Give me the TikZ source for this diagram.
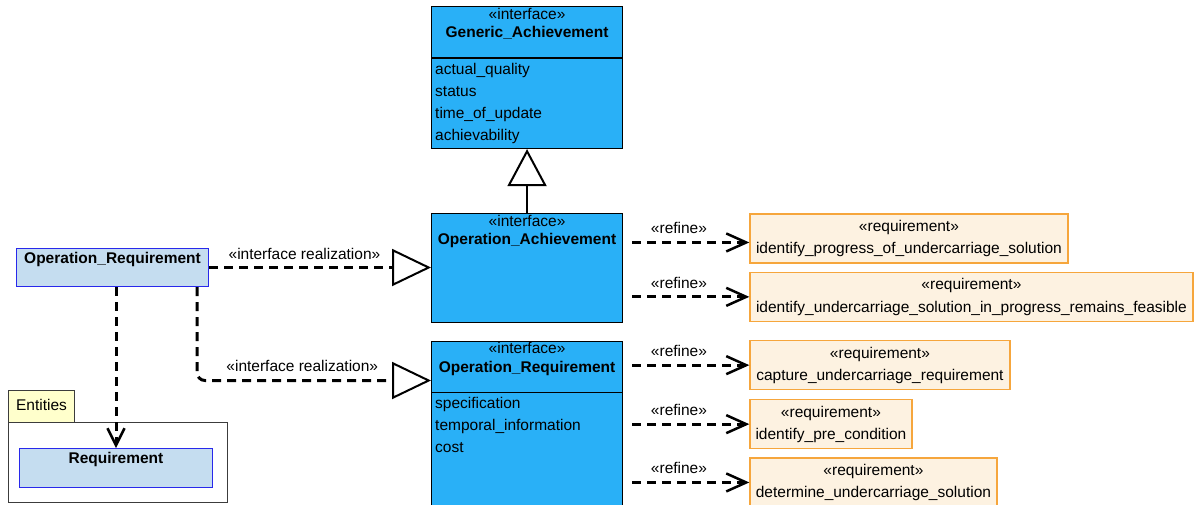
\documentclass[tikz,border=0pt]{standalone}
\usepackage{fontspec}
\setmainfont{Liberation Sans}
\usetikzlibrary{arrows.meta,positioning,calc}
\definecolor{ifblue}{RGB}{41,176,247}
\definecolor{clsfill}{RGB}{197,221,240}
\definecolor{clsline}{RGB}{40,40,235}
\definecolor{reqfill}{RGB}{253,242,225}
\definecolor{reqline}{RGB}{246,166,60}
\definecolor{pkgtab}{RGB}{255,255,204}
\definecolor{pkgline}{RGB}{60,60,60}

\begin{document}
\begin{tikzpicture}[
  x=1pt,y=-1pt,
  every node/.style={font=\fontsize{15.5}{18}\selectfont,inner sep=0pt},
  iface/.style={draw=black,fill=ifblue,line width=1.1pt,anchor=north west,minimum width=191pt},
  cls/.style={draw=clsline,fill=clsfill,line width=1pt,anchor=north west},
  reqbox/.style={draw=reqline,fill=reqfill,line width=1.3pt,anchor=north west,minimum height=49pt},
  pkg/.style={draw=pkgline,line width=1pt,anchor=north west},
  stereo/.style={anchor=base},
  title/.style={anchor=base,font=\fontsize{15.5}{18}\selectfont\bfseries},
  attr/.style={anchor=base west},
  dashline/.style={line width=3pt,dash pattern=on 9pt off 6pt},
  real/.style={dashline,-{Triangle[open,length=39pt,width=37pt,line width=2pt]}},
  refn/.style={dashline,-{Straight Barb[length=20pt,width=18pt,line width=2.5pt]}},
  dep/.style={dashline,-{Straight Barb[length=17pt,width=17pt,line width=2.5pt]}},
  gen/.style={line width=2pt,-{Triangle[open,length=37pt,width=39pt,line width=2pt]}}
]
\useasboundingbox (0,0) rectangle (1197,504);

% interfaces
\node[iface,minimum height=142pt] (ga) at (431,6) {};
\draw[line width=1.1pt] ($(ga.north west)+(0,52)$) -- ($(ga.north east)+(0,52)$);
\node[stereo] (ga-st) at ($(ga.north)+(0,13.5)$) {«interface»};
\node[title] (ga-nm) at ($(ga.north)+(0,31.5)$) {Generic\_Achievement};
\foreach \a [count=\i] in {actual\_quality,status,time\_of\_update,achievability}
  \node[attr] (ga-a\i) at ($(ga.north west)+(4,46+22*\i)$) {\a};

\node[iface,minimum height=109pt] (oa) at (431,213.3) {};
\node[stereo] (oa-st) at ($(oa.north)+(0,13.5)$) {«interface»};
\node[title] (oa-nm) at ($(oa.north)+(0,31.5)$) {Operation\_Achievement};

\node[iface,minimum height=200pt] (ori) at (431,340.5) {};
\draw[line width=1.1pt] ($(ori.north west)+(0,52)$) -- ($(ori.north east)+(0,52)$);
\node[stereo] (ori-st) at ($(ori.north)+(0,13)$) {«interface»};
\node[title] (ori-nm) at ($(ori.north)+(0,31.5)$) {Operation\_Requirement};
\foreach \a [count=\i] in {specification,temporal\_information,cost}
  \node[attr] (ori-a\i) at ($(ori.north west)+(4,46+22*\i)$) {\a};

% classes and package
\node[cls,minimum width=192pt,minimum height=38pt] (opr) at (16,248) {};
\node[title] (opr-nm) at ($(opr.north)+(0,15)$) {Operation\_Requirement};

\node[pkg,fill=pkgtab,minimum width=66pt,minimum height=31.7pt] (pkg-tab) at (8,390) {};
\node[anchor=base] (pkg-nm) at ($(pkg-tab.north)+(0,20)$) {Entities};
\node[pkg,fill=white,minimum width=219pt,minimum height=80pt] (pkg) at (8,421.7) {};
\node[cls,minimum width=193pt,minimum height=39pt] (rq) at (19,448) {};
\node[title] (rq-nm) at ($(rq.north)+(0,15.3)$) {Requirement};

% requirements
\foreach \n/\w/\t/\txt in {r1/318/213.3/identify\_progress\_of\_undercarriage\_solution,
    r2/443/271.7/identify\_undercarriage\_solution\_in\_progress\_remains\_feasible,
    r3/260/340/capture\_undercarriage\_requirement,
    r4/162/399/identify\_pre\_condition,
    r5/247/457.3/determine\_undercarriage\_solution}{
  \node[reqbox,minimum width=\w pt] (\n) at (749.3,\t) {};
  \node[stereo] (\n-st) at ($(\n.north)+(0,18)$) {«requirement»};
  \node[stereo] (\n-nm) at ($(\n.north)+(0,40.5)$) {\txt};
}

% connectors
\draw[gen] (oa.north) -- (ga.south);
\draw[real] (opr.east) -- node[pos=0.43,above=6pt] (lb-re1) {«interface realization»} (opr.east -| oa.west);
\draw[real,rounded corners=8pt] ([xshift=-12pt]opr.south east) |- node[pos=0.725,above=7pt] (lb-re2) {«interface realization»} ($(ori.north west)+(0,40)$);
\draw[dep] (rq.north |- opr.south) -- (rq.north);
\foreach \n/\dy in {r1/4,r2/0,r3/0,r4/0,r5/0}
  \draw[refn] ([xshift=9pt,yshift=-\dy pt]\n.west -| oa.east) -- node[pos=0.4,above=7pt] (lb-\n) {«refine»} ([yshift=-\dy pt]\n.west);
\end{tikzpicture}
\end{document}
